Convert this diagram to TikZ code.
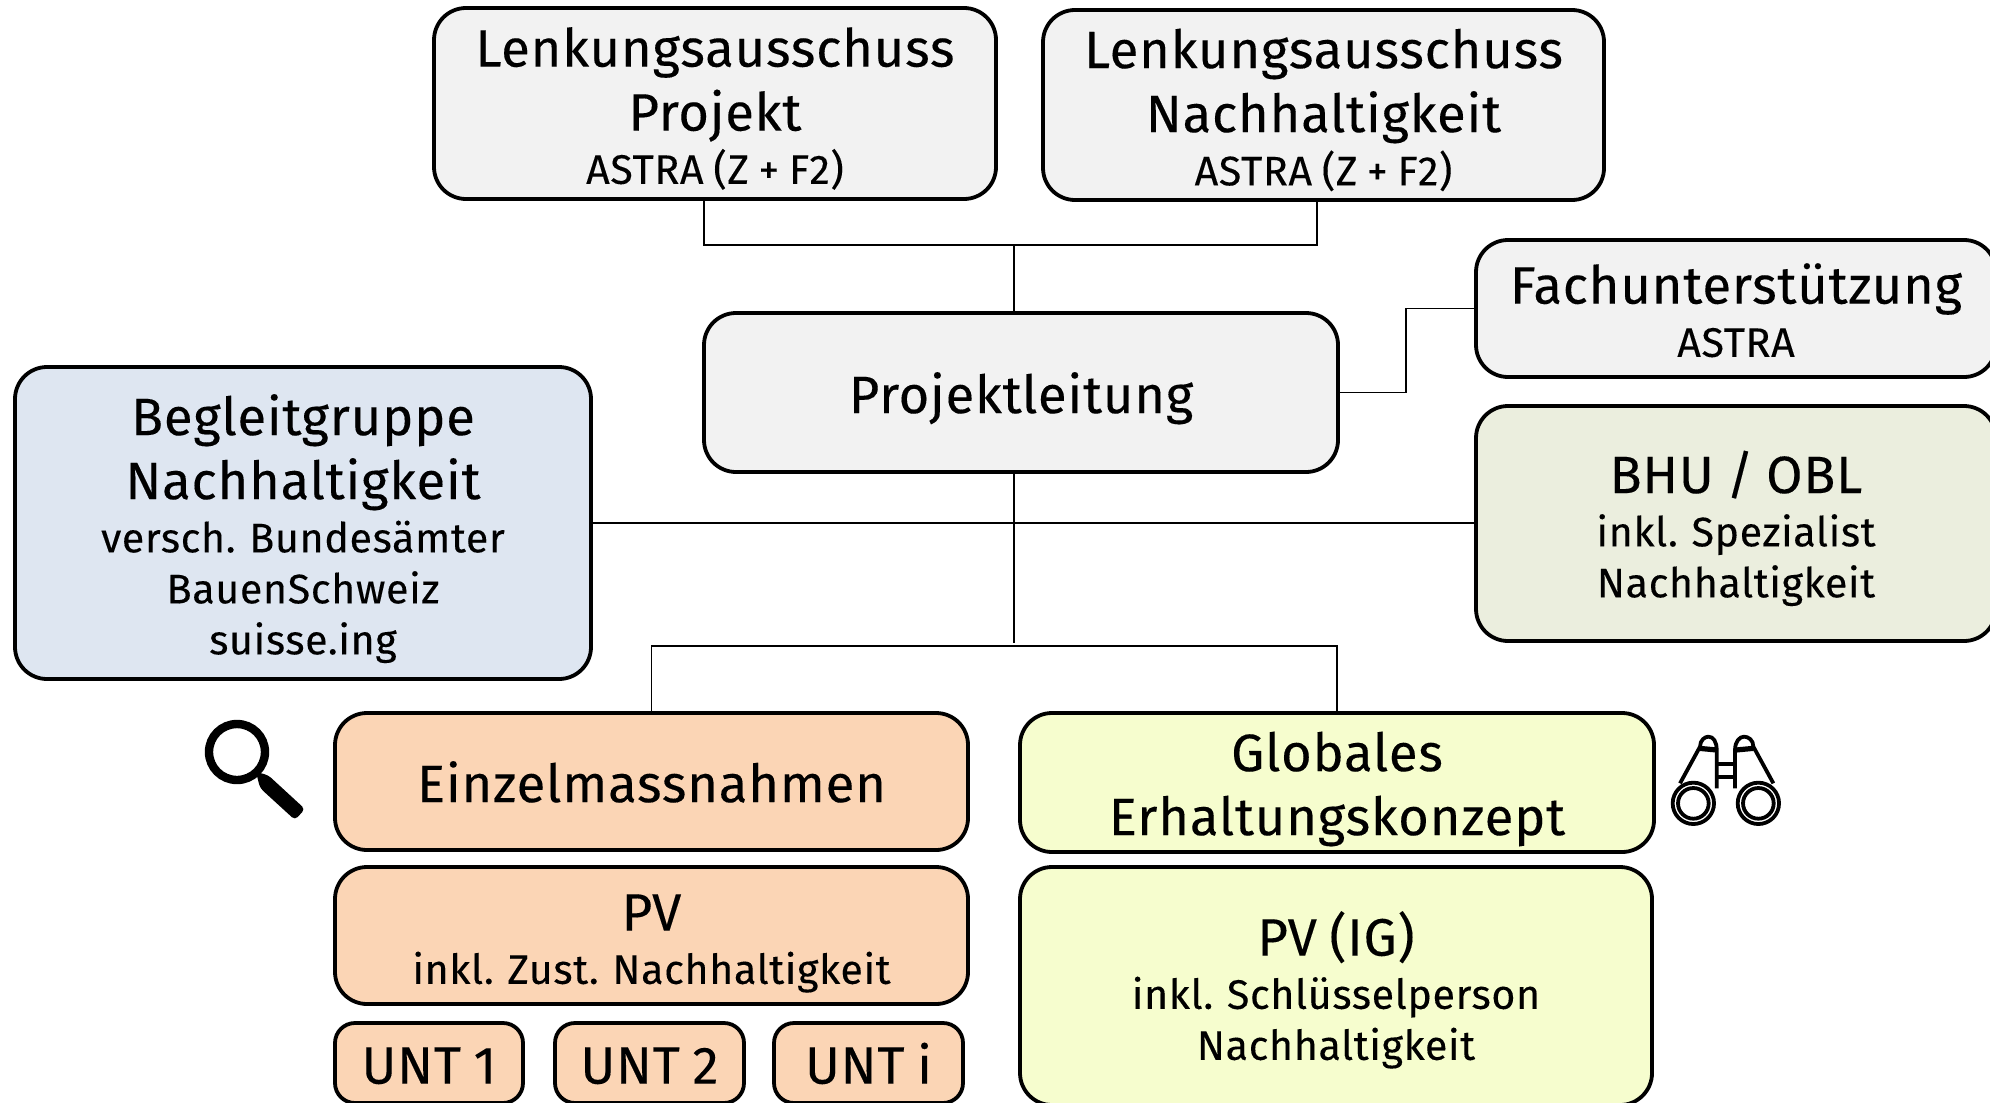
\documentclass[tikz,border=0pt]{standalone}
\usepackage{fontspec}
\setmainfont[LetterSpace=1.5,WordSpace=0.85,FakeBold=0.2]{Fira Sans}
\newcommand\biglin[1]{\fontsize{26.3}{32}\selectfont\rule[-5.7pt]{0pt}{32pt}#1}
\newcommand\smlin[1]{\fontsize{20.6}{25.5}\selectfont\rule[-4.6pt]{0pt}{25.5pt}#1}
\definecolor{grayfill}{HTML}{F2F2F2}
\definecolor{bluefill}{HTML}{DEE6F1}
\definecolor{olivefill}{HTML}{EBEEDE}
\definecolor{peachfill}{HTML}{FBD5B5}
\definecolor{yellowfill}{HTML}{F6FDCE}
\tikzset{
 px/.style={x=0.5pt,y=-0.5pt},
 orgbox/.style={draw=black,line width=1.9pt,rounded corners=16pt,inner sep=0pt,outer sep=0pt,align=center,text=black,execute at begin node={\lineskiplimit=1000pt \lineskip=0pt}},
 conn/.style={draw=black,line width=0.8pt},
 icon/.style={draw=black,line width=4.2pt,fill=none}
}
\begin{document}
\begin{tikzpicture}[px]
\useasboundingbox (0,0) rectangle (1990,1102);
\node[orgbox,fill=grayfill,minimum width=281pt,minimum height=95.5pt] (la1) at (715,103.5) {\biglin{Lenkungsausschuss}\\\biglin{Projekt}\\\smlin{ASTRA (Z + F2)}};
\node[orgbox,fill=grayfill,minimum width=280.5pt,minimum height=95pt] (la2) at (1323.5,105) {\biglin{Lenkungsausschuss}\\\biglin{Nachhaltigkeit}\\\smlin{ASTRA (Z + F2)}};
\node[orgbox,fill=grayfill,minimum width=317pt,minimum height=79.5pt] (pl) at (1021,392.5) {\biglin{Projektleitung}};
\node[orgbox,fill=grayfill,minimum width=260pt,minimum height=68.5pt] (fach) at (1736,308.5) {\biglin{Fachunterstützung}\\\smlin{ASTRA}};
\node[orgbox,fill=bluefill,minimum width=288pt,minimum height=156pt] (beg) at (303,523) {\biglin{Begleitgruppe}\\\biglin{Nachhaltigkeit}\\\smlin{versch. Bundesämter}\\\smlin{BauenSchweiz}\\\smlin{suisse.ing}};
\node[orgbox,fill=olivefill,minimum width=260pt,minimum height=117.5pt] (bhu) at (1736,523.5) {\biglin{BHU / OBL}\\\smlin{inkl. Spezialist}\\\smlin{Nachhaltigkeit}};
\node[orgbox,fill=peachfill,minimum width=316.5pt,minimum height=68.5pt] (ein) at (651.5,781.5) {\biglin{Einzelmassnahmen}};
\node[orgbox,fill=yellowfill,minimum width=317pt,minimum height=69.5pt] (glo) at (1337,782.5) {\biglin{Globales}\\\biglin{Erhaltungskonzept}};
\node[orgbox,fill=peachfill,minimum width=316.5pt,minimum height=68.5pt] (pv) at (651.5,935.5) {\biglin{PV}\\\smlin{inkl. Zust. Nachhaltigkeit}};
\node[orgbox,fill=yellowfill,minimum width=316pt,minimum height=119pt] (pvig) at (1336,986) {\biglin{PV (IG)}\\\smlin{inkl. Schlüsselperson}\\\smlin{Nachhaltigkeit}};
\node[orgbox,fill=peachfill,minimum width=94pt,minimum height=40pt,rounded corners=10pt] (u1) at (429,1063) {\biglin{UNT 1}};
\node[orgbox,fill=peachfill,minimum width=94.5pt,minimum height=40pt,rounded corners=10pt] (u2) at (649.5,1063) {\biglin{UNT 2}};
\node[orgbox,fill=peachfill,minimum width=94.5pt,minimum height=40pt,rounded corners=10pt] (ui) at (868.5,1063) {\biglin{UNT i}};
% connector junctions
\coordinate (topa) at (704,245);
\coordinate (topb) at (1317,245);
\coordinate (topm) at (1014,245);
\coordinate (kneer) at (1406,0);
\coordinate (lowm) at (1014,643);
\coordinate (pvl) at (651.5,646);
\coordinate (pvr) at (1337,646);
\draw[conn] (la1.south -| topa) -- (topa) -- (topb) -- (la2.south -| topb);
\draw[conn] (topm) -- (pl.north -| topm);
\draw[conn] (pl.east) -- (pl.east -| kneer) -- (fach.west -| kneer) -- (fach.west);
\draw[conn] (pl.south -| topm) -- (lowm);
\draw[conn] (beg.east) -- (beg.east -| bhu.west);
\draw[conn] (ein.north) -- (pvl) -- (pvr) -- (glo.north);
% magnifier
\draw[icon] (237,752) circle (28);
\fill[black,rounded corners=2pt] (256,772) -- (268,775) -- (305,809) -- (295,820) -- (260,788) -- cycle;
% binoculars
\begin{scope}[shift={(1650,720)},x=0.1667pt,y=-0.1667pt,line width=1.9pt,draw=black,line join=round]
 \draw (90,190) -- (150,80) .. controls (150,60) and (165,50) .. (175,50) .. controls (190,50) and (200,65) .. (200,90) -- (200,205);
 \draw[line width=2.6pt] (148,85) -- (200,90);
 \draw (370,190) -- (310,80) .. controls (310,60) and (295,50) .. (282,50) .. controls (268,50) and (255,65) .. (255,90) -- (255,205);
 \draw[line width=2.6pt] (258,90) -- (310,85);
 \draw (200,132) -- (255,132) (200,172) -- (255,172);
 \draw (130,250) circle (62) circle (46);
 \draw (325,250) circle (62) circle (46);
\end{scope}
\end{tikzpicture}
\end{document}
